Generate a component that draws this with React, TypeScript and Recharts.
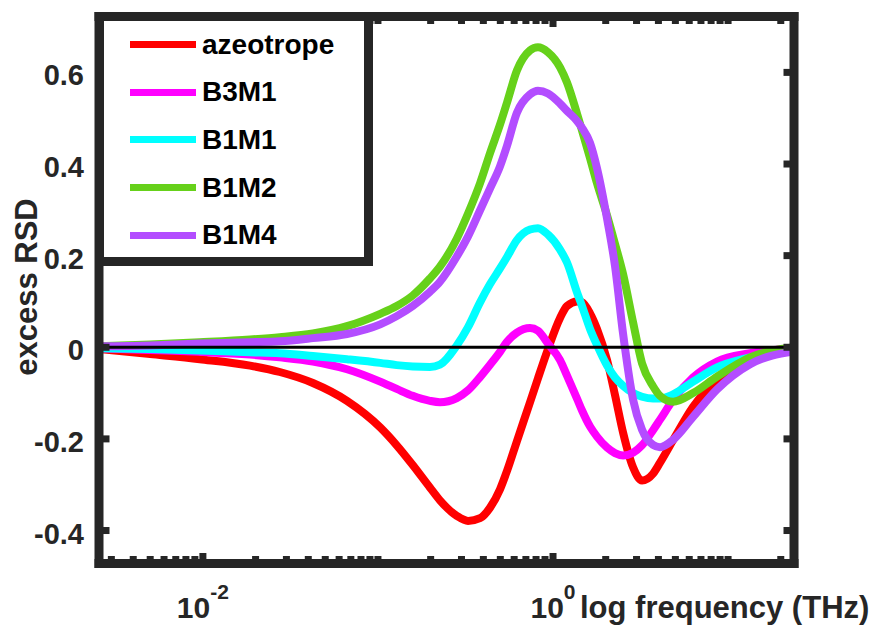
import React from "react";
import { LineChart, Line, XAxis, YAxis, ReferenceLine, Legend, Label } from "recharts";

// frequency (THz)
const FREQ = [
  0.00255, 0.005, 0.0096, 0.0186, 0.0275, 0.0425, 0.0665, 0.103, 0.128, 0.158,
  0.198, 0.226, 0.282, 0.327, 0.383, 0.437, 0.498, 0.546, 0.622, 0.739,
  0.82, 0.936, 1.097, 1.202, 1.371, 1.465, 1.627, 1.783, 2.035, 2.259,
  2.512, 2.865, 3.225, 3.726, 4.087, 4.85, 6.31, 8.65, 13.36, 23.8,
];

const AZEOTROPE = [
  -0.004, -0.015, -0.026, -0.04, -0.054, -0.078, -0.117, -0.175, -0.214, -0.257,
  -0.306, -0.334, -0.368, -0.379, -0.373, -0.35, -0.31, -0.27, -0.205, -0.12,
  -0.068, -0.004, 0.064, 0.09, 0.1, 0.098, 0.074, 0.04, -0.028, -0.104,
  -0.186, -0.262, -0.291, -0.276, -0.252, -0.203, -0.13, -0.072, -0.031, -0.004,
];

const B3M1 = [
  -0.002, -0.006, -0.01, -0.016, -0.022, -0.031, -0.048, -0.075, -0.091, -0.106,
  -0.117, -0.12, -0.111, -0.094, -0.065, -0.038, -0.01, 0.012, 0.032, 0.042,
  0.036, 0.008, -0.028, -0.062, -0.112, -0.138, -0.173, -0.195, -0.219, -0.231,
  -0.236, -0.23, -0.214, -0.181, -0.158, -0.115, -0.066, -0.031, -0.013, -0.002,
];

const B1M1 = [
  -0.002, -0.004, -0.007, -0.011, -0.013, -0.019, -0.026, -0.034, -0.039, -0.042,
  -0.043, -0.038, 0.004, 0.044, 0.098, 0.138, 0.172, 0.197, 0.234, 0.257,
  0.26, 0.246, 0.213, 0.185, 0.12, 0.09, 0.04, 0.005, -0.04, -0.066,
  -0.084, -0.1, -0.108, -0.112, -0.112, -0.103, -0.075, -0.044, -0.022, -0.002,
];

const B1M2 = [
  0.002, 0.006, 0.011, 0.017, 0.022, 0.03, 0.046, 0.073, 0.09, 0.113,
  0.15, 0.176, 0.237, 0.292, 0.358, 0.424, 0.486, 0.534, 0.604, 0.648,
  0.655, 0.644, 0.611, 0.578, 0.51, 0.473, 0.413, 0.358, 0.288, 0.226,
  0.16, 0.055, -0.035, -0.085, -0.106, -0.119, -0.1, -0.064, -0.022, 0,
];

const B1M4 = [
  0.002, 0.004, 0.008, 0.011, 0.013, 0.02, 0.029, 0.05, 0.068, 0.09,
  0.121, 0.143, 0.198, 0.242, 0.299, 0.347, 0.395, 0.44, 0.512, 0.552,
  0.56, 0.554, 0.532, 0.516, 0.494, 0.479, 0.446, 0.391, 0.281, 0.178,
  0.03, -0.114, -0.18, -0.213, -0.218, -0.202, -0.152, -0.092, -0.037, -0.009,
];

const SERIES = [
  { key: "azeotrope", color: "#ff0000", values: AZEOTROPE },
  { key: "B3M1", color: "#ff00ff", values: B3M1 },
  { key: "B1M1", color: "#00ffff", values: B1M1 },
  { key: "B1M2", color: "#66d11a", values: B1M2 },
  { key: "B1M4", color: "#b34dff", values: B1M4 },
];

const X_MAJOR = [0.01, 1];
const X_TICKS = [
  0.003, 0.004, 0.005, 0.006, 0.007, 0.008, 0.009, 0.01,
  0.02, 0.03, 0.04, 0.05, 0.06, 0.07, 0.08, 0.09, 0.1,
  0.2, 0.3, 0.4, 0.5, 0.6, 0.7, 0.8, 0.9, 1,
  2, 3, 4, 5, 6, 7, 8, 9, 10, 20,
];
const Y_TICKS = [-0.4, -0.2, 0, 0.2, 0.4, 0.6];
const X_DOMAIN = [0.00255, 23.8];
const Y_DOMAIN = [-0.472, 0.722];

const W = 877;
const H = 631;
const BOX = { left: 99, right: 794, top: 16.5, bottom: 563.5 };
const FRAME = "#262626";
const FW = 9; // frame line width
const FONT = '"Liberation Sans", Arial, Helvetica, sans-serif';

const rows = FREQ.map((f, i) => {
  const r: Record<string, number> = { f };
  SERIES.forEach((s) => (r[s.key] = s.values[i]));
  return r;
});

const frameLine = { stroke: FRAME, strokeWidth: FW, strokeLinecap: "square" as const };

function XTick(props: any) {
  const { x, payload, side } = props;
  const major = X_MAJOR.includes(payload.value);
  const len = major ? 6 : 3;
  const y0 = side === "bottom" ? BOX.bottom - FW / 2 - len : BOX.top + FW / 2 - 1;
  const exp = Math.round(Math.log10(payload.value));
  return (
    <g>
      <rect x={x - 3.5} y={y0} width={7} height={len + 1} fill={FRAME} />
      {major && side === "bottom" && (
        <text x={x} y={618} textAnchor="middle" fill={FRAME} fontFamily={FONT} fontWeight="bold">
          <tspan fontSize={30}>10</tspan>
          <tspan fontSize={21} dy={-19}>{exp}</tspan>
        </text>
      )}
    </g>
  );
}

function YTick(props: any) {
  const { y, payload, side } = props;
  const len = 6;
  const x0 = side === "left" ? BOX.left + FW / 2 - 1 : BOX.right - FW / 2 - len;
  const v = payload.value;
  return (
    <g>
      <rect x={x0} y={y - 3.5} width={len + 1} height={7} fill={FRAME} />
      {side === "left" && (
        <text x={84} y={y + 13} textAnchor="end" fill={FRAME} fontFamily={FONT} fontWeight="bold" fontSize={29}>
          {v === 0 ? "0" : v.toFixed(1)}
        </text>
      )}
    </g>
  );
}

function renderLegend() {
  return (
    <div
      style={{
        boxSizing: "border-box",
        width: 278.5,
        height: 254,
        border: `${FW}px solid ${FRAME}`,
        background: "#fff",
      }}
    >
      {SERIES.map((s) => (
        <div key={s.key} style={{ display: "flex", alignItems: "center", height: 47.6 }}>
          <span style={{ width: 66, height: 7, marginLeft: 26.5, background: s.color }} />
          <span
            style={{
              marginLeft: 6,
              fontFamily: FONT,
              fontWeight: "bold",
              fontSize: 28,
              lineHeight: 1,
              color: "#000",
            }}
          >
            {s.key}
          </span>
        </div>
      ))}
    </div>
  );
}

export default function App() {
  return (
    <div style={{ position: "absolute", left: 0, top: 0, width: W, height: H, background: "#fff" }}>
      <LineChart
        width={W}
        height={H}
        data={rows}
        margin={{ top: BOX.top - 1, right: W - BOX.right - 1, bottom: H - BOX.bottom - 1, left: BOX.left - 1 }}
      >
        {SERIES.map((s) => (
          <Line
            key={s.key}
            xAxisId="b"
            yAxisId="l"
            dataKey={s.key}
            name={s.key}
            stroke={s.color}
            strokeWidth={8}
            type="monotone"
            dot={false}
            isAnimationActive={false}
          />
        ))}
        <ReferenceLine xAxisId="b" yAxisId="l" y={0} stroke="#000" strokeWidth={3} />
        <XAxis
          xAxisId="b"
          dataKey="f"
          type="number"
          scale="log"
          domain={X_DOMAIN}
          allowDataOverflow
          ticks={X_TICKS}
          interval={0}
          height={1}
          tickSize={0}
          tickLine={false}
          axisLine={frameLine}
          tick={<XTick side="bottom" />}
        >
          <Label
            content={() => (
              <text x={580} y={618} fill={FRAME} fontFamily={FONT} fontWeight="bold" fontSize={31}>
                log frequency (THz)
              </text>
            )}
          />
        </XAxis>
        <XAxis
          xAxisId="t"
          orientation="top"
          dataKey="f"
          type="number"
          scale="log"
          domain={X_DOMAIN}
          allowDataOverflow
          ticks={X_TICKS}
          interval={0}
          height={1}
          tickSize={0}
          tickLine={false}
          axisLine={frameLine}
          tick={<XTick side="top" />}
        />
        <YAxis
          yAxisId="l"
          type="number"
          domain={Y_DOMAIN}
          allowDataOverflow
          ticks={Y_TICKS}
          interval={0}
          width={1}
          tickSize={0}
          tickLine={false}
          axisLine={frameLine}
          tick={<YTick side="left" />}
        >
          <Label
            content={() => (
              <text
                x={37}
                y={287}
                textAnchor="middle"
                transform="rotate(-90 37 287)"
                fill={FRAME}
                fontFamily={FONT}
                fontWeight="bold"
                fontSize={31}
              >
                excess RSD
              </text>
            )}
          />
        </YAxis>
        <YAxis
          yAxisId="r"
          orientation="right"
          type="number"
          domain={Y_DOMAIN}
          allowDataOverflow
          ticks={Y_TICKS}
          interval={0}
          width={1}
          tickSize={0}
          tickLine={false}
          axisLine={frameLine}
          tick={<YTick side="right" />}
        />
        <Legend
          layout="vertical"
          align="center"
          verticalAlign="middle"
          content={renderLegend}
          wrapperStyle={{ left: BOX.left - FW / 2, top: BOX.top - FW / 2, width: 278.5, height: 254 }}
        />
      </LineChart>
    </div>
  );
}
